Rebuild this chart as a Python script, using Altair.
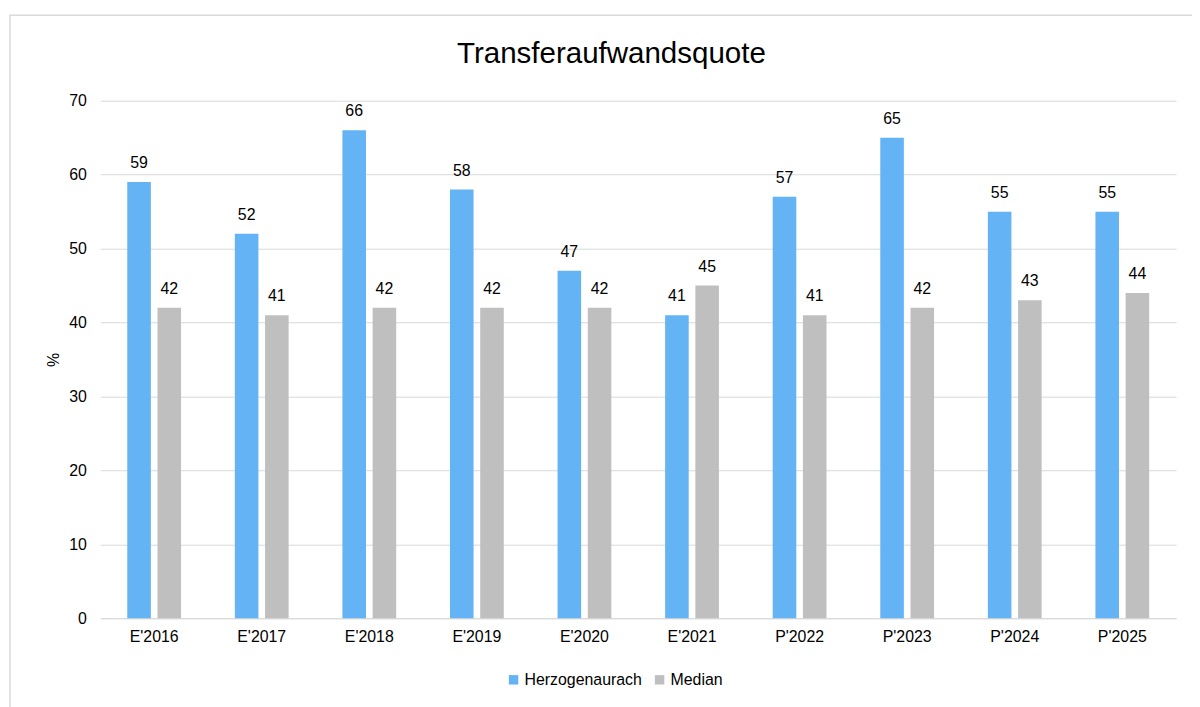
import altair as alt
import pandas as pd

# ---- data ----
categories = ["E'2016", "E'2017", "E'2018", "E'2019", "E'2020",
              "E'2021", "P'2022", "P'2023", "P'2024", "P'2025"]
herzogenaurach = [59, 52, 66, 58, 47, 41, 57, 65, 55, 55]
median = [42, 41, 42, 42, 42, 45, 41, 42, 43, 44]
series_names = ["Herzogenaurach", "Median"]
series_colors = ["#63B3F5", "#BFBFBF"]
y_ticks = [0, 10, 20, 30, 40, 50, 60, 70]
title_text = "Transferaufwandsquote"
y_title = "%"

rows = []
for cat, h, m in zip(categories, herzogenaurach, median):
    rows.append({"Jahr": cat, "Serie": series_names[0], "Wert": h})
    rows.append({"Jahr": cat, "Serie": series_names[1], "Wert": m})
df = pd.DataFrame(rows)

FONT = "Liberation Sans"
GRID = "#D9D9D9"
FS = 16

x_enc = alt.X(
    "Jahr:N", sort=categories,
    scale=alt.Scale(paddingInner=0.5, paddingOuter=0.25),
    axis=alt.Axis(title=None, labelAngle=0, ticks=False, labelPadding=10,
                  labelFontSize=FS, labelFont=FONT, labelColor="#000000",
                  domainColor=GRID, domainWidth=1, grid=False),
)
xo_enc = alt.XOffset("Serie:N", sort=series_names,
                     scale=alt.Scale(domain=series_names, paddingInner=0.22, paddingOuter=0))
y_enc = alt.Y(
    "Wert:Q", scale=alt.Scale(domain=[0, 70], nice=False),
    axis=alt.Axis(values=y_ticks, title=y_title, titleFontSize=FS, titleFont=FONT,
                  titleFontWeight="normal", titleColor="#000000", titlePadding=7,
                  grid=True, gridColor=GRID, gridWidth=1, domain=False, ticks=False,
                  labelPadding=14, labelFontSize=FS, labelFont=FONT, labelColor="#000000"),
)

bars = alt.Chart(df).mark_bar().encode(
    x=x_enc, xOffset=xo_enc, y=y_enc,
    color=alt.Color("Serie:N", sort=series_names,
                    scale=alt.Scale(domain=series_names, range=series_colors),
                    legend=alt.Legend(title=None, orient="none", legendX=408, legendY=575,
                                      direction="horizontal", symbolType="square",
                                      symbolSize=90, symbolStrokeWidth=0,
                                      labelFontSize=FS, labelFont=FONT, labelColor="#000000",
                                      labelOffset=3, columnPadding=9, padding=0)),
)

labels = alt.Chart(df).mark_text(baseline="alphabetic", dy=-14, fontSize=FS,
                                 font=FONT, color="#000000").encode(
    x=x_enc, xOffset=xo_enc, y=y_enc, text="Wert:Q",
)

title = alt.Chart(pd.DataFrame({"t": [title_text]})).mark_text(
    fontSize=29.7, font=FONT, baseline="alphabetic", align="center", color="#000000"
).encode(text="t:N", x=alt.value(514.5), y=alt.value(-38))

border = alt.Chart(pd.DataFrame({"a": [0]})).mark_rect(
    fill="transparent", stroke=GRID, strokeWidth=1.5
).encode(x=alt.value(-91), x2=alt.value(1300), y=alt.value(-86), y2=alt.value(900))

chart = alt.layer(border, bars, labels, title).properties(
    width=1083, height=521,
    autosize=alt.AutoSizeParams(type="none"),
    padding={"left": 93, "top": 91, "right": 16, "bottom": 87},
    background="white",
).configure_view(strokeWidth=0)

chart.save("out.html", embed_options={"renderer": "svg", "actions": False})
